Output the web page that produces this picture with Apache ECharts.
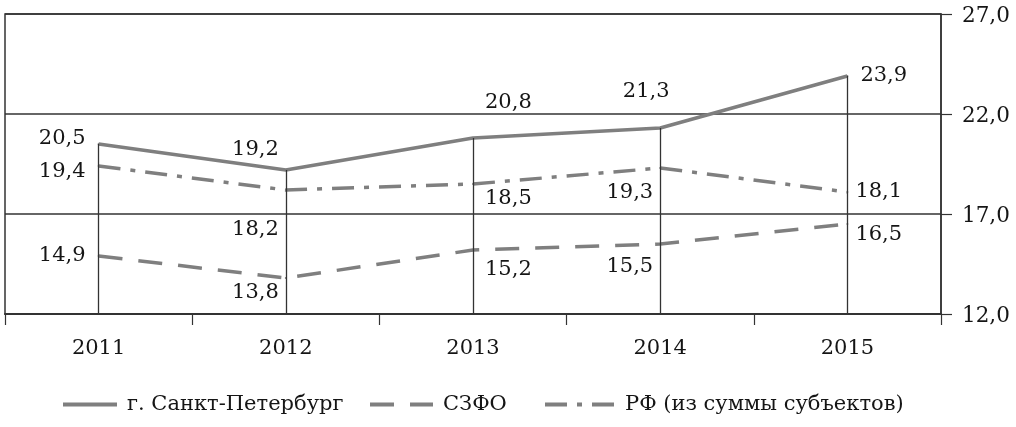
<!DOCTYPE html>
<html>
<head>
<meta charset="utf-8">
<script src="https://cdn.jsdelivr.net/npm/echarts@6/dist/echarts.min.js"></script>
<style>
  html, body { margin: 0; padding: 0; background: #fff; }
  #chart { width: 1016px; height: 427px; }
</style>
</head>
<body>
<div id="chart"></div>
<script>
const years = ["2011", "2012", "2013", "2014", "2015"];
const spbValues = [20.5, 19.2, 20.8, 21.3, 23.9];
const szfoValues = [14.9, 13.8, 15.2, 15.5, 16.5];
const rfValues = [19.4, 18.2, 18.5, 19.3, 18.1];
const seriesNames = ["г. Санкт-Петербург", "СЗФО", "РФ (из суммы субъектов)"];

// where each value label sits next to its point
const spbLabelPos = [
  { position: "left", distance: 12, offset: [0, -5] },
  { position: "left", distance: 6, offset: [0, -20] },
  { position: "right", distance: 11, offset: [0, -35] },
  { position: "top", distance: 25, offset: [-14, 0] },
  { position: "right", distance: 12, offset: [0, 0] }
];
const rfLabelPos = [
  { position: "left", distance: 12, offset: [0, 6] },
  { position: "left", distance: 6, offset: [0, 40] },
  { position: "right", distance: 11, offset: [0, 15] },
  { position: "left", distance: 6, offset: [0, 25] },
  { position: "right", distance: 7, offset: [0, 0] }
];
const szfoLabelPos = [
  { position: "left", distance: 12, offset: [0, 0] },
  { position: "left", distance: 6, offset: [0, 15] },
  { position: "right", distance: 11, offset: [0, 20] },
  { position: "left", distance: 6, offset: [0, 23] },
  { position: "right", distance: 7, offset: [0, 11] }
];

const font = "DejaVu Serif";
const lineGray = "#7f7f7f";
const ink = "#151515";
const dashed = [24, 16];
const dashDot = [22, 10, 5, 10];

function withLabels(values, layout) {
  return values.map((v, i) => ({
    value: v,
    label: Object.assign({ show: true }, layout[i])
  }));
}

const chart = echarts.init(document.getElementById("chart"));

const labelStyle = {
  show: true,
  fontFamily: font,
  fontSize: 21,
  color: ink,
  formatter: (p) => p.value.toFixed(1).replace(".", ",")
};

function legendFor(name, left, width, lineType) {
  return {
    data: [name],
    left: left,
    top: 394,
    padding: 0,
    itemWidth: width,
    itemHeight: 14,
    itemStyle: { opacity: 0 },
    lineStyle: { width: 4, type: lineType, color: lineGray },
    textStyle: { fontFamily: font, fontSize: 21, color: ink, padding: [0, 0, 0, 5] }
  };
}

const option = {
  animation: false,
  grid: {
    left: 5,
    right: 75,
    top: 14,
    bottom: 113,
    show: true,
    borderColor: "#333",
    borderWidth: 1.5
  },
  legend: [
    legendFor(seriesNames[0], 61, 54, "solid"),
    legendFor(seriesNames[1], 368, 63, dashed),
    legendFor(seriesNames[2], 543, 70, dashDot)
  ],
  xAxis: {
    type: "category",
    data: years,
    boundaryGap: true,
    axisLine: { lineStyle: { color: "#333", width: 2 } },
    axisTick: { show: true, length: 11, lineStyle: { color: "#333", width: 1.2 } },
    axisLabel: { fontFamily: font, fontSize: 21, color: ink, margin: 24 }
  },
  yAxis: {
    type: "value",
    position: "right",
    min: 12,
    max: 27,
    interval: 5,
    axisLine: { show: true, lineStyle: { color: "#333", width: 1.5 } },
    axisTick: { show: true, length: 11, lineStyle: { color: "#333", width: 1.2 } },
    axisLabel: {
      fontFamily: font,
      fontSize: 21.5,
      color: ink,
      margin: 21,
      verticalAlign: "top",
      lineHeight: 4,
      formatter: (v) => v.toFixed(1).replace(".", ",")
    },
    splitLine: { show: true, lineStyle: { color: "#333", width: 1.5 } }
  },
  series: [
    {
      name: seriesNames[0],
      type: "line",
      data: withLabels(spbValues, spbLabelPos),
      symbol: "circle",
      symbolSize: 2,
      lineStyle: { color: lineGray, width: 3.5, type: "solid" },
      itemStyle: { color: lineGray },
      label: labelStyle,
      z: 3,
      markLine: {
        silent: true,
        symbol: "none",
        label: { show: false },
        lineStyle: { color: "#333", width: 1.3, type: "solid" },
        data: spbValues.map((v, i) => [
          { coord: [i, v] },
          { coord: [i, 12] }
        ])
      }
    },
    {
      name: seriesNames[1],
      type: "line",
      data: withLabels(szfoValues, szfoLabelPos),
      symbol: "circle",
      symbolSize: 2,
      lineStyle: { color: lineGray, width: 3.5, type: dashed },
      itemStyle: { color: lineGray },
      label: labelStyle,
      z: 3
    },
    {
      name: seriesNames[2],
      type: "line",
      data: withLabels(rfValues, rfLabelPos),
      symbol: "circle",
      symbolSize: 2,
      lineStyle: { color: lineGray, width: 3.5, type: dashDot },
      itemStyle: { color: lineGray },
      label: labelStyle,
      z: 3
    }
  ]
};

chart.setOption(option);
</script>
</body>
</html>
